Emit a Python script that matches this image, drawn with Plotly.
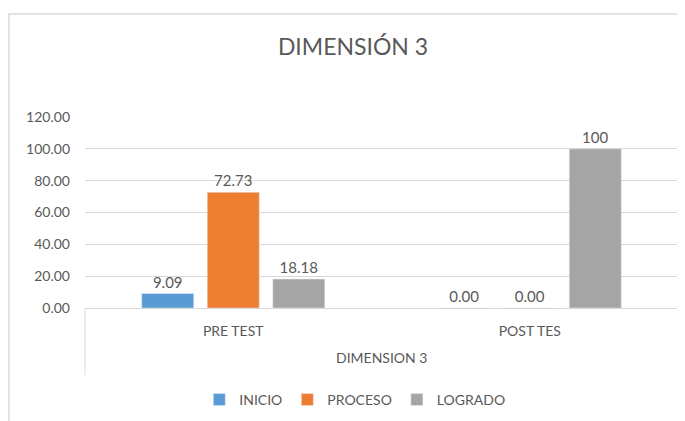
import plotly.graph_objects as go

group_label = "DIMENSION 3"
categories = ["PRE TEST", "POST TES"]
series_names = ["INICIO", "PROCESO", "LOGRADO"]
inicio = [9.09, 0.00]
proceso = [72.73, 0.00]
logrado = [18.18, 100]
labels_inicio = ["9.09", "0.00"]
labels_proceso = ["72.73", "0.00"]
labels_logrado = ["18.18", "100"]
colors = ["#5B9BD5", "#ED7D31", "#A5A5A5"]

FONT = "Lato, Open Sans, sans-serif"
TXT = "#595959"
GRID = "#D9D9D9"

OFF = 8  # page body margin
W, H = 685 - OFF, 421 - OFF
L, T = 85 - OFF, 117 - OFF
PR, PB = 678 - OFF, 308 - OFF
R, B = W - PR, H - PB
PW, PH = PR - L, PB - T


def ypx(py):
    return (PB - (py - OFF)) / PH


def xpx(px):
    return ((px - OFF) - L) / PW


fig = go.Figure()
for name, vals, labs, col in zip(series_names, [inicio, proceso, logrado],
                                 [labels_inicio, labels_proceso, labels_logrado], colors):
    fig.add_trace(go.Bar(
        x=categories, y=vals, name=name, marker_color=col,
        text=labs, textposition="outside", cliponaxis=False,
        textfont=dict(family=FONT, size=15, color=TXT),
    ))

fig.update_layout(
    width=W, height=H,
    margin=dict(l=L, r=R, t=T, b=B, autoexpand=False),
    paper_bgcolor="white", plot_bgcolor="white",
    barmode="group", bargap=0.337, bargroupgap=0.206,
    title=dict(text="DIMENSIÓN 3", x=(353 - OFF) / W, xref="container",
               y=1 - (47 - OFF) / H, yref="container",
               xanchor="center", yanchor="middle",
               font=dict(family=FONT, size=23, color=TXT)),
    font=dict(family=FONT, color=TXT, size=14),
    legend=dict(orientation="h", x=0.455, xanchor="center", y=ypx(400), yanchor="middle",
                font=dict(family=FONT, size=14, color=TXT), itemwidth=30,
                traceorder="normal"),
    showlegend=True,
)
fig.update_yaxes(range=[0, 120], dtick=20, tickformat=".2f", showgrid=True,
                 gridcolor=GRID, gridwidth=1, zeroline=False, showline=False,
                 ticks="", automargin=False, ticklabelstandoff=14,
                 tickfont=dict(family=FONT, size=14, color=TXT))
fig.update_xaxes(showline=True, linecolor=GRID, linewidth=1, automargin=False,
                 ticks="", ticklabelstandoff=10,
                 tickfont=dict(family=FONT, size=14, color=TXT))

# category box side lines and group label
for xp in (0, 1):
    fig.add_shape(type="line", xref="paper", yref="paper", x0=xp, x1=xp,
                  y0=0, y1=ypx(375), line=dict(color=GRID, width=1))
fig.add_annotation(text=group_label, xref="paper", yref="paper", x=0.5,
                   y=ypx(357), showarrow=False, yanchor="middle",
                   font=dict(family=FONT, size=14, color=TXT))

# chart border (left and top edges visible)
fig.add_shape(type="rect", xref="paper", yref="paper",
              x0=xpx(OFF + 1), x1=xpx(720),
              y0=ypx(460), y1=ypx(14),
              line=dict(color=GRID, width=1.5), fillcolor="rgba(0,0,0,0)", layer="below")

fig.write_html("out.html")
